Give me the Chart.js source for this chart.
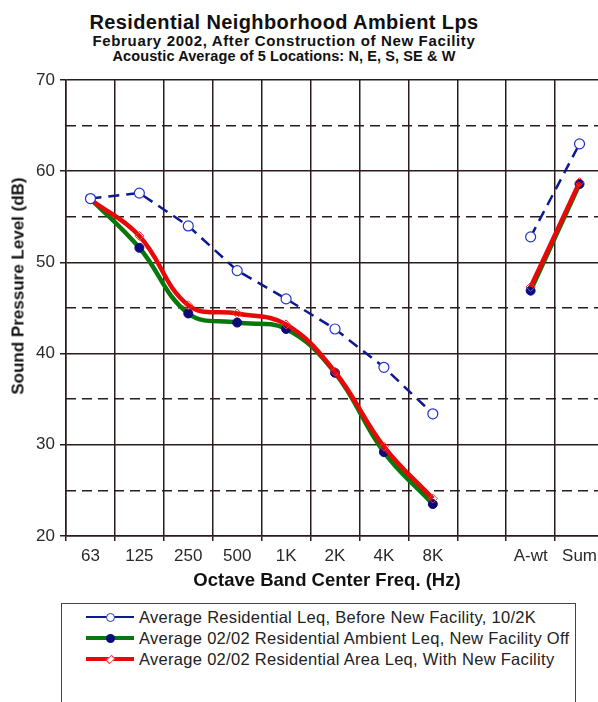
<!DOCTYPE html>
<html>
<head>
<meta charset="utf-8">
<script src="https://cdn.jsdelivr.net/npm/chart.js@4.4.1/dist/chart.umd.min.js"></script>
<style>
  html, body { margin: 0; padding: 0; background: #fff; overflow: hidden; }
  #wrap { position: relative; width: 598px; height: 702px; overflow: hidden;
          font-family: "Liberation Sans", Arial, Helvetica, sans-serif; color: #1a1a1a; }
  #plot { position: absolute; left: 0; top: 0; width: 620px; height: 600px; }
  .ttl { position: absolute; left: 0; width: 568px; text-align: center; white-space: nowrap;
         font-weight: bold; line-height: 1; color: #111; }
  .axt { position: absolute; white-space: nowrap; font-weight: bold; line-height: 1; color: #111; }
  #ytitle { left: 18px; top: 286px; font-size: 17px; transform: translate(-50%, -50%) rotate(-90deg); }
  #xtitle { left: 327px; top: 571px; font-size: 18.5px; transform: translateX(-50%); }
  #legend { position: absolute; left: 61px; top: 603px; width: 515px; height: 130px;
            border: 1px solid #444; box-sizing: border-box; }
  .row { position: absolute; left: 0; height: 20px; width: 100%; }
  .sample { position: absolute; left: 24px; width: 48px; top: 10px; }
  .mark { position: absolute; box-sizing: border-box; }
  .txt { position: absolute; left: 77px; top: 1px; font-size: 16.5px; letter-spacing: 0.3px;
         white-space: nowrap; line-height: 18px; color: #222; }
</style>
</head>
<body>
<div id="wrap">
  <div class="ttl" style="top:12px;font-size:20px;letter-spacing:0.4px;">Residential Neighborhood Ambient Lps</div>
  <div class="ttl" style="top:32.5px;font-size:15px;letter-spacing:0.65px;">February 2002, After Construction of New Facility</div>
  <div class="ttl" style="top:48.5px;font-size:14.5px;letter-spacing:0.1px;">Acoustic Average of 5 Locations: N, E, S, SE &amp; W</div>
  <canvas id="plot" width="620" height="600"></canvas>
  <div class="axt" id="ytitle">Sound Pressure Level (dB)</div>
  <div class="axt" id="xtitle">Octave Band Center Freq. (Hz)</div>
  <div id="legend"></div>
</div>
<script>
// octave band centres, then a blank column, then A-weighted and overall sum
const bandLabels = ["63", "125", "250", "500", "1K", "2K", "4K", "8K", "", "A-wt", "Sum"];

const beforeLeq    = [57.0, 57.6, 54.0, 49.1, 46.0, 42.7, 38.5, 33.4, null, 52.8, 63.0];
const ambientOff   = [57.0, 51.6, 44.4, 43.4, 42.7, 37.9, 29.2, 23.5, null, 46.9, 58.6];
const withFacility = [56.9, 52.9, 45.3, 44.4, 43.2, 38.0, 29.8, 24.1, null, 47.3, 58.8];

const seriesNames = [
  "Average Residential Leq, Before New Facility, 10/2K",
  "Average 02/02 Residential Ambient Leq, New Facility Off",
  "Average 02/02 Residential Area Leq, With New Facility",
];

const yTicksMin = 20, yTicksMax = 70;

const gridColor = "#2a1c1c";
const fontFam = '"Liberation Sans", Arial, Helvetica, sans-serif';

const BLUE = "#0d1a8e";
const GREEN = "#08780c";
const NAVY = "#0a0a78";
const RED = "#e80808";

const datasets = [
  {
    label: seriesNames[0],
    data: beforeLeq,
    borderColor: BLUE,
    borderWidth: 2.5,
    borderDash: [11, 7],
    tension: 0,
    pointRadius: 5,
    pointBorderWidth: 1.2,
    pointBorderColor: "#2233cc",
    pointBackgroundColor: "#ffffff",
    order: 0,
  },
  {
    label: seriesNames[1],
    data: ambientOff,
    borderColor: GREEN,
    borderWidth: 4.5,
    tension: 0.4,
    pointRadius: 4.5,
    pointBorderWidth: 1,
    pointBorderColor: NAVY,
    pointBackgroundColor: NAVY,
    order: 2,
  },
  {
    label: seriesNames[2],
    data: withFacility,
    borderColor: RED,
    borderWidth: 4.5,
    tension: 0.4,
    pointStyle: "rectRot",
    pointRadius: 4.5,
    pointBorderWidth: 1,
    pointBorderColor: "#ff3030",
    pointBackgroundColor: "rgba(255,255,255,0)",
    order: 1,
  },
];

new Chart(document.getElementById("plot").getContext("2d"), {
  type: "line",
  data: { labels: bandLabels, datasets },
  options: {
    responsive: false,
    animation: false,
    events: [],
    layout: { padding: { top: 80, right: 16, bottom: 0, left: 0 } },
    plugins: { legend: { display: false }, tooltip: { enabled: false } },
    scales: {
      x: {
        type: "category",
        offset: true,
        grid: { offset: true, color: gridColor, lineWidth: 1.5, tickLength: 5 },
        border: { color: gridColor, width: 1.5 },
        ticks: { color: "#2a2a2a", padding: 5, maxRotation: 0, autoSkip: false,
                 font: { family: fontFam, size: 17 } },
        afterFit: (s) => { s.height = 64; },
      },
      y: {
        min: yTicksMin,
        max: yTicksMax,
        ticks: { stepSize: 10, color: "#2a2a2a", padding: 5, font: { family: fontFam, size: 17 } },
        grid: { color: gridColor, lineWidth: 1.5, tickLength: 6 },
        border: { color: gridColor, width: 1.5 },
        afterFit: (s) => { s.width = 66; },
      },
      // second copy of the same range, just for the dashed 5 dB lines
      y2: {
        position: "right",
        min: yTicksMin,
        max: yTicksMax,
        ticks: { stepSize: 5, display: false },
        grid: {
          drawTicks: false,
          lineWidth: 1.5,
          color: (c) => (c.tick && c.tick.value % 10 === 0 ? "rgba(0,0,0,0)" : gridColor),
        },
        border: { display: false, dash: [10, 6] },
        afterFit: (s) => { s.width = 0; },
      },
    },
  },
});

// legend box underneath, same look as the original (line with marker in the middle)
const legendEl = document.getElementById("legend");
const rowTops = [3, 24, 45];
datasets.forEach((ds, i) => {
  const row = document.createElement("div");
  row.className = "row";
  row.style.top = rowTops[i] + "px";
  const lw = i === 0 ? 2.5 : 4;
  const line = document.createElement("div");
  line.className = "sample";
  line.style.height = lw + "px";
  line.style.marginTop = -lw / 2 + "px";
  line.style.background = ds.borderColor;
  row.appendChild(line);
  const m = document.createElement("div");
  m.className = "mark";
  const size = i === 2 ? 7 : 9;
  m.style.width = size + "px";
  m.style.height = size + "px";
  m.style.left = 24 + 24 - size / 2 + "px";
  m.style.top = 10 - size / 2 + "px";
  if (i === 0) {
    m.style.borderRadius = "50%";
    m.style.border = "1.2px solid #2233cc";
    m.style.background = "#fff";
  } else if (i === 1) {
    m.style.borderRadius = "50%";
    m.style.background = NAVY;
  } else {
    m.style.transform = "rotate(45deg) scale(0.75, 1.2)";
    m.style.border = "1px solid #ff3030";
    m.style.background = "#fff";
  }
  row.appendChild(m);
  const t = document.createElement("div");
  t.className = "txt";
  t.textContent = ds.label;
  row.appendChild(t);
  legendEl.appendChild(row);
});
</script>
</body>
</html>
